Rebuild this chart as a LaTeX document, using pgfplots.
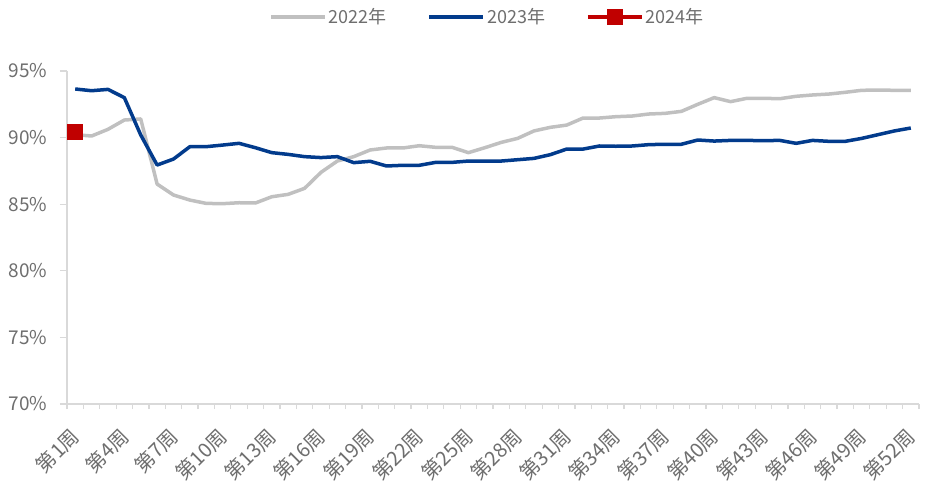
\documentclass[border=0pt]{standalone}
\usepackage{pgfplots}
\pgfplotsset{compat=1.18}
\usepackage{fontspec}
\setmainfont{Noto Sans CJK SC}
\definecolor{g22}{HTML}{C0C0C0}
\definecolor{b23}{HTML}{023B8C}
\definecolor{r24}{HTML}{C00000}
\definecolor{axg}{HTML}{D9D9D9}
\definecolor{txt}{HTML}{6E6E6E}
\begin{document}
\begin{tikzpicture}
\useasboundingbox (0,0) rectangle (927pt,485pt);
\begin{axis}[
  at={(67pt,81pt)}, anchor=south west,
  scale only axis, width=852pt, height=333pt,
  xmin=0.5, xmax=52.5, ymin=70, ymax=95,
  axis x line*=bottom, axis y line*=left,
  axis line style={axg, line width=1.2pt},
  xtick={1,4,...,52},
  xticklabels={第1周,第4周,第7周,第10周,第13周,第16周,第19周,第22周,第25周,第28周,第31周,第34周,第37周,第40周,第43周,第46周,第49周,第52周},
  minor xtick={0.5,1.5,...,52.5},
  major x tick style={draw=none},
  minor x tick style={axg, line width=1.2pt},
  minor tick length=5pt,
  ytick={70,75,...,95},
  y tick style={axg, line width=1.2pt},
  major tick length=7pt,
  tick align=outside,
  yticklabel={\pgfmathprintnumber{\tick}\%},
  /pgf/number format/assume math mode=true,
  y tick label style={font=\fontsize{19}{22}\selectfont, text=txt, xshift=-9pt},
  x tick label style={font=\fontsize{20}{23}\selectfont, text=txt, xshift=3pt, yshift=-19pt, rotate=45, anchor=east},
  legend style={at={(0.4935,1.162)}, anchor=center, draw=none, fill=none,
    legend columns=-1, font=\fontsize{18}{21}\selectfont, text=txt,
    /tikz/every even column/.append style={column sep=39pt}},
  legend image code/.code={\draw[mark repeat=2,mark phase=2,#1] plot coordinates {(0pt,0pt) (27pt,0pt) (54pt,0pt)};},
  clip=false,
]
\addplot[g22, line width=3.5pt, line join=round] coordinates {
(1,90.22)(2,90.12)(3,90.62)(4,91.32)(5,91.40)(6,86.51)(7,85.69)(8,85.31)(9,85.06)(10,85.04)
(11,85.11)(12,85.09)(13,85.56)(14,85.74)(15,86.19)(16,87.39)(17,88.24)(18,88.57)(19,89.07)(20,89.22)
(21,89.22)(22,89.39)(23,89.27)(24,89.27)(25,88.87)(26,89.24)(27,89.64)(28,89.94)(29,90.50)(30,90.77)
(31,90.94)(32,91.47)(33,91.47)(34,91.57)(35,91.62)(36,91.77)(37,91.82)(38,91.97)(39,92.50)(40,93.00)
(41,92.70)(42,92.95)(43,92.95)(44,92.92)(45,93.10)(46,93.20)(47,93.27)(48,93.40)(49,93.55)(50,93.57)
(51,93.55)(52,93.55)};
\addlegendentry{2022年}
\addplot[b23, line width=3.5pt, line join=round] coordinates {
(1,93.65)(2,93.52)(3,93.62)(4,93.00)(5,90.20)(6,87.94)(7,88.39)(8,89.32)(9,89.32)(10,89.44)
(11,89.57)(12,89.24)(13,88.87)(14,88.74)(15,88.57)(16,88.50)(17,88.57)(18,88.12)(19,88.22)(20,87.87)
(21,87.92)(22,87.92)(23,88.14)(24,88.14)(25,88.24)(26,88.24)(27,88.24)(28,88.34)(29,88.44)(30,88.72)
(31,89.14)(32,89.14)(33,89.37)(34,89.35)(35,89.37)(36,89.47)(37,89.50)(38,89.50)(39,89.82)(40,89.74)
(41,89.79)(42,89.79)(43,89.77)(44,89.79)(45,89.57)(46,89.79)(47,89.72)(48,89.72)(49,89.94)(50,90.22)
(51,90.50)(52,90.72)};
\addlegendentry{2023年}
\addplot[r24, line width=3.5pt, mark=square*, mark size=7.5pt, mark options={solid, line width=0pt}] coordinates {(1,90.4)};
\addlegendentry{2024年}
\end{axis}
\end{tikzpicture}
\end{document}
